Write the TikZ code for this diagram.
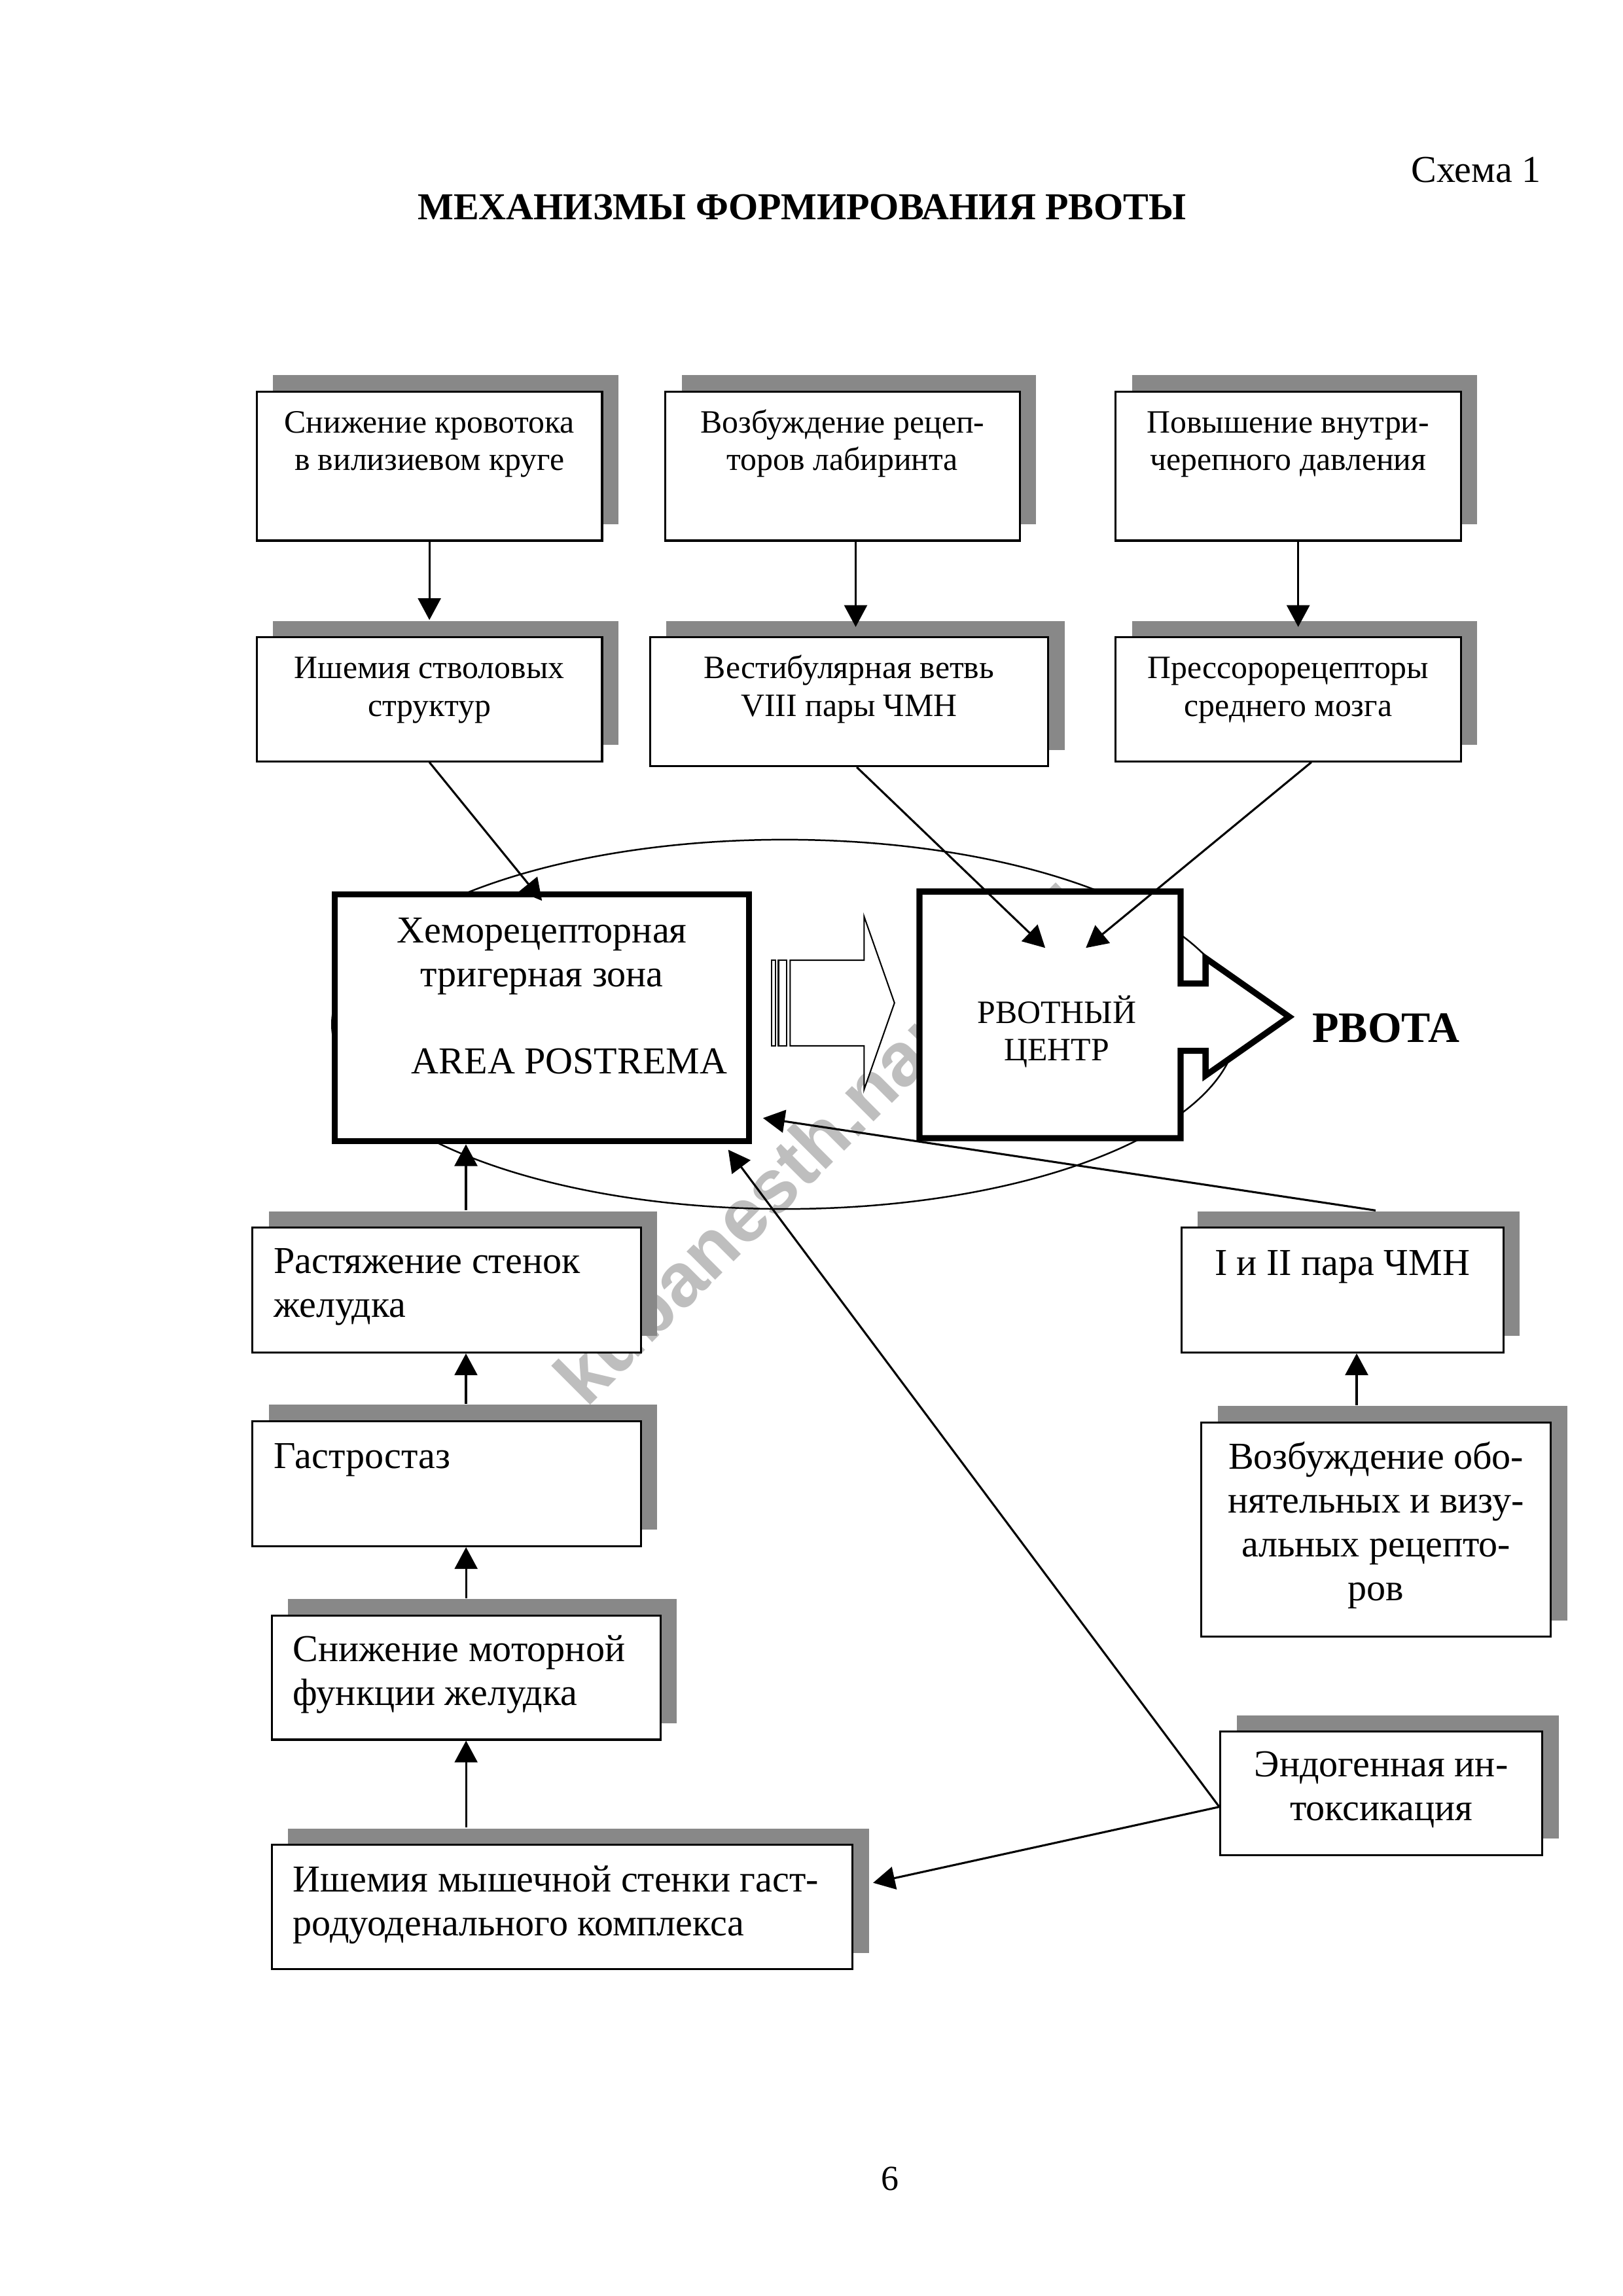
\documentclass[tikz,border=0pt]{standalone}
\usepackage{fontspec}
\setmainfont{Liberation Serif}
\setsansfont{Liberation Sans}
\usetikzlibrary{arrows.meta}
\usetikzlibrary{shadows}
\usetikzlibrary{calc,positioning}

\definecolor{shadowgray}{RGB}{136,136,136}
\definecolor{markgray}{RGB}{190,190,190}

\newcommand{\fsmall}{\fontsize{12}{13.8}\selectfont}
\newcommand{\flarge}{\fontsize{14}{16.1}\selectfont}
\newcommand{\ctext}[4]{\parbox[c][#2][t]{#1}{\centering\rule{0pt}{#3}#4}}
\newcommand{\ltext}[4]{\parbox[c][#2][t]{#1}{\raggedright\leftskip=2.75mm\rule{0pt}{#3}#4}}

\begin{document}
\begin{tikzpicture}[x=1mm, y=-1mm, >={Triangle[length=8pt,width=8.4pt]},
    every node/.style={inner sep=0pt},
    blk/.style={draw, line width=0.75pt, fill=white, anchor=north west,
      drop shadow={shadow xshift=2.12mm, shadow yshift=2.12mm, fill=shadowgray, opacity=1}},
    thickblk/.style={draw, line width=2.25pt, fill=white, anchor=north west},
    link/.style={->, line width=0.75pt}]

    \useasboundingbox (0,0) rectangle (210,297.16);

    \node[rotate=45, font=\sffamily\bfseries\fontsize{28}{30}\selectfont, text=markgray] (mark) at (105.9,147.4) {kubanesth.narod.ru};

    \draw[line width=0.6pt] (101.57,132.57) ellipse [x radius=58.6, y radius=23.9];

    % upper rows
    \node[blk, font=\fsmall] (A1) at (33.1,50.55) {\ctext{44.7mm}{19.29mm}{5.35mm}{Снижение кровотока\\в вилизиевом круге}};
    \node[blk, font=\fsmall] (A2) at (86.0,50.55) {\ctext{45.85mm}{19.29mm}{5.35mm}{Возбуждение рецеп-\\торов лабиринта}};
    \node[blk, font=\fsmall] (A3) at (144.26,50.55) {\ctext{44.69mm}{19.29mm}{5.35mm}{Повышение внутри-\\черепного давления}};
    \node[blk, font=\fsmall] (B1) at (33.1,82.34) {\ctext{44.7mm}{16.05mm}{5.35mm}{Ишемия стволовых\\структур}};
    \node[blk, font=\fsmall] (B2) at (84.0,82.34) {\ctext{51.54mm}{16.69mm}{5.35mm}{Вестибулярная ветвь\\VIII пары ЧМН}};
    \node[blk, font=\fsmall] (B3) at (144.26,82.34) {\ctext{44.69mm}{16.05mm}{5.35mm}{Прессорорецепторы\\среднего мозга}};

    % centre
    \node[thickblk, font=\flarge] (chemo) at (42.95,115.38) {\ctext{53.62mm}{31.93mm}{6.24mm}{Хеморецепторная\\тригерная зона\\\mbox{}\\\hspace*{7.1mm}AREA POSTREMA}};

    \draw[line width=0.5pt, fill=white] (99.85,124.27) rectangle (100.38,135.35);
    \draw[line width=0.5pt, fill=white] (100.76,124.27) rectangle (101.85,135.35);
    \draw[line width=0.5pt, fill=white] (102.28,124.27) -- (111.84,124.27) -- (111.84,118.6) -- (115.78,129.8)
        -- (111.84,141.03) -- (111.84,135.35) -- (102.28,135.35) -- cycle;

    \draw[line width=2.25pt, fill=white] (119.02,115.38) -- (152.82,115.38) -- (152.82,127.3) -- (156.04,127.3)
        -- (156.04,124.0) -- (166.88,131.6) -- (156.04,139.2) -- (156.04,136.0) -- (152.82,136.0)
        -- (152.82,147.31) -- (119.02,147.31) -- cycle;
    \node[anchor=north west, font=\fsmall] (vc) at (119.02,115.38) {\ctext{33.8mm}{31.93mm}{17mm}{\hspace*{1.6mm}РВОТНЫЙ\\\hspace*{1.6mm}ЦЕНТР}};
    \node[anchor=base west, font=\fontsize{16}{18}\selectfont\bfseries] (vomit) at (169.8,134.9) {РВОТА};

    % lower part
    \node[blk, font=\flarge] (C1) at (32.55,158.75) {\ltext{50.26mm}{16.16mm}{5.93mm}{Растяжение стенок\\желудка}};
    \node[blk, font=\flarge] (C2) at (32.55,183.81) {\ltext{50.26mm}{16.17mm}{6.13mm}{Гастростаз}};
    \node[blk, font=\flarge] (C3) at (35.04,208.96) {\ltext{50.31mm}{16.06mm}{5.96mm}{Снижение моторной\\функции желудка}};
    \node[blk, font=\flarge] (C4) at (35.04,238.63) {\ltext{75.16mm}{16.11mm}{6.07mm}{Ишемия мышечной стенки гаст-\\родуоденального комплекса}};
    \node[blk, font=\flarge] (D1) at (152.79,158.76) {\ctext{41.66mm}{16.14mm}{6.12mm}{I и II пара ЧМН}};
    \node[blk, font=\flarge] (D2) at (155.35,183.95) {\ctext{45.26mm}{27.76mm}{6.08mm}{Возбуждение обо-\\нятельных и визу-\\альных рецепто-\\ров}};
    \node[blk, font=\flarge] (E) at (157.82,223.99) {\ctext{41.68mm}{15.96mm}{5.83mm}{Эндогенная ин-\\токсикация}};

    % arrows
    \draw[link, shorten >=2.1mm] (A1.south) -- (B1.north);
    \draw[link, shorten >=1.2mm] ([xshift=1.7mm]A2.south) -- ([xshift=1.7mm]A2.south |- B2.north);
    \draw[link, shorten >=1.2mm] ([xshift=1.3mm]A3.south) -- ([xshift=1.3mm]A3.south |- B3.north);
    \draw[link] (B1.south) -- ([yshift=-1.2mm]chemo.north);
    \draw[link] ([xshift=1mm]B2.south) -- ([xshift=-0.7mm,yshift=-7.3mm]vc.north);
    \draw[link] ([xshift=3mm]B3.south) -- ([xshift=4.56mm,yshift=-7.3mm]vc.north);
    \draw[link, shorten <=2.1mm] ([xshift=2.5mm]C1.north) -- ([xshift=2.5mm]C1.north |- chemo.south);
    \draw[link, shorten <=2.1mm] ([xshift=2.5mm]C2.north) -- ([xshift=2.5mm]C1.south);
    \draw[link, shorten <=2.1mm] (C3.north) -- (C3.north |- C2.south);
    \draw[link, shorten <=2.1mm] (C3.south |- C4.north) -- (C3.south);
    \draw[link, shorten <=2.1mm] ([xshift=1.85mm]D1.south |- D2.north) -- ([xshift=1.85mm]D1.south);
    \draw[link] ([xshift=4.3mm,yshift=2.1mm]D1.north) -- ([xshift=1.4mm,yshift=3.4mm]chemo.south east);
    \coordinate (Eout) at ([yshift=-1.75mm]E.west);
    \draw[link] (Eout) -- ([xshift=-3.1mm,yshift=-0.7mm]chemo.south east);
    \draw[link] (Eout) -- ([xshift=2.55mm,yshift=-5.05mm]C4.north east);

    % page texts
    \node[anchor=base, font=\flarge\bfseries] (title) at (103.8,28.46) {МЕХАНИЗМЫ ФОРМИРОВАНИЯ РВОТЫ};
    \node[anchor=base east, font=\flarge] (scheme) at (199.5,23.58) {Схема 1};
    \node[anchor=base, font=\fontsize{13}{15}\selectfont] (page) at (115.2,283.5) {6};

\end{tikzpicture}
\end{document}
